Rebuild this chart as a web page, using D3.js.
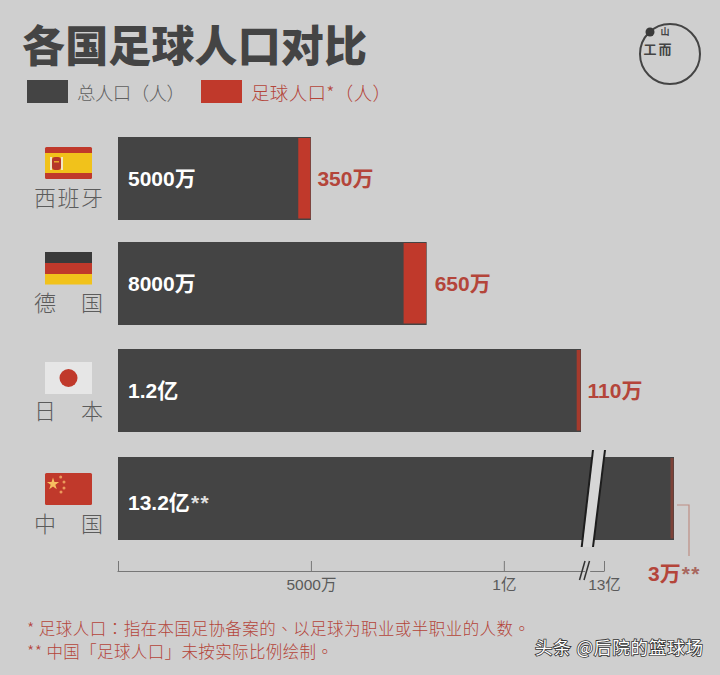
<!DOCTYPE html>
<html><head><meta charset="utf-8">
<script src="https://cdn.jsdelivr.net/npm/d3@7/dist/d3.min.js"></script>
<style>
html,body{margin:0;padding:0;background:#cfcfcf}
svg{display:block}
text{font-family:"Noto Sans CJK SC","Noto Sans",sans-serif}
.num{font-family:"Liberation Sans","Noto Sans CJK SC",sans-serif;font-weight:700}
.tc{font-family:"Noto Sans CJK TC",sans-serif}
</style></head><body>
<svg id="c" width="720" height="675"></svg>
<script>
const countries = ["西班牙","德国","日本","中国"];
const totalPopulation = [50000000,80000000,120000000,1320000000];
const footballPopulation = [3500000,6500000,1100000,30000];
const totalLabels = ["5000万","8000万","1.2亿","13.2亿"];
const footballLabels = ["350万","650万","110万","3万"];
const axisTicks = [0,50000000,100000000,1300000000];
const axisLabels = ["","5000万","1亿","13亿"];
const legendLabels = ["总人口（人）","足球人口*（人）"];
const notes = ["* 足球人口：指在本国足协备案的、以足球为职业或半职业的人数。","** 中国「足球人口」未按实际比例绘制。"];

const DARK="#444444", RED="#c0392b", BG="#cfcfcf", TXT="#5f5f5f", REDTXT="#b4453a";
const svg=d3.select("#c");
svg.append("rect").attr("width",720).attr("height",675).attr("fill",BG);

// broken scale: linear up to 1.2亿, compressed after the break
const x=d3.scaleLinear().domain([0,120000000,1300000000,1320000000]).range([118,581,604,674]);
const y=d3.scaleOrdinal().domain(countries).range([137,242,349,457]);
const barH=83;
const rows=countries.map((c,i)=>({c,total:totalPopulation[i],foot:footballPopulation[i],tl:totalLabels[i],fl:footballLabels[i]}));

// title & legend
svg.append("text").text("各国足球人口对比").attr("x",22).attr("y",62)
  .attr("font-size",43).attr("font-weight",900).attr("fill","#444").attr("textLength",345);
const legend=[[27,DARK,77,TXT,108],[201,RED,251,REDTXT,140]];
legend.forEach((l,i)=>{
  svg.append("rect").attr("x",l[0]).attr("y",80).attr("width",41).attr("height",23).attr("fill",l[1]);
  svg.append("text").text(legendLabels[i]).attr("x",l[2]).attr("y",99.5).attr("font-size",18.5).attr("font-weight",300)
    .attr("fill",l[3]).attr("textLength",l[4]);
});

// logo
svg.append("circle").attr("cx",670).attr("cy",54).attr("r",30).attr("stroke-width",2).attr("fill","none").attr("stroke","#444");
svg.append("circle").attr("cx",650).attr("cy",32).attr("r",4.5).attr("fill","#3a3a3a");
[["山",665,35,9],["工",650,53.5,13],["而",665,53.5,13]].forEach(g=>{
  svg.append("text").text(g[0]).attr("x",g[1]).attr("y",g[2]).attr("font-size",g[3]).attr("text-anchor","middle").attr("fill","#444").attr("font-weight",700);
});

// bars
const g=svg.append("g");
g.selectAll("rect.total").data(rows).join("rect").attr("class","total")
  .attr("x",x(0)).attr("y",d=>y(d.c)).attr("width",d=>x(d.total)-x(0)).attr("height",barH).attr("fill",DARK);
const w=d=>Math.max(3,0.9*(d.foot/50000000)*(x(50000000)-x(0)));
g.selectAll("rect.foot").data(rows).join("rect").attr("class","foot")
  .attr("x",d=>x(d.total)-0.5-w(d)).attr("y",d=>y(d.c)+1).attr("width",d=>w(d)).attr("height",barH-2.5)
  .attr("fill",d=>d.foot<1e6?"#7d4238":(d.foot<2e6?"#a63a2c":RED));
const labelDy={"中国":3.5};
const tl=g.selectAll("text.tl").data(rows).join("text").attr("class","tl num")
  .attr("x",128).attr("y",d=>y(d.c)+barH/2+7.5+(labelDy[d.c]||0)).attr("font-size",21).attr("fill","#fff").text(d=>d.tl);
tl.filter(d=>d.c==="中国").append("tspan").text("**").attr("dx",1).attr("fill","#e0e0e0").attr("letter-spacing",1.5);
g.selectAll("text.fl").data(rows.slice(0,3)).join("text").attr("class","fl num")
  .attr("x",d=>x(d.total)+(d.total===80000000?8:6.5)).attr("y",d=>y(d.c)+barH/2+7.5).attr("font-size",21).attr("fill",REDTXT).text(d=>d.fl);

// leader + China label
svg.append("path").attr("d","M677,505H689V556").attr("fill","none").attr("stroke","#bd8e84").attr("stroke-width",1.2);
const cl=svg.append("text").attr("class","num").attr("x",648).attr("y",581).attr("font-size",21).attr("fill",REDTXT).text(footballLabels[3]);
cl.append("tspan").text("**").attr("dx",1).attr("letter-spacing",1.5).attr("fill","#a8675e");

// country names + flags
const names=svg.append("g");
const nameDy={"西班牙":-1,"德国":-1,"日本":0,"中国":5};
rows.forEach(d=>{
  names.append("text").text(d.c).attr("x",34).attr("y",y(d.c)+barH-13+nameDy[d.c])
    .attr("font-size",22).attr("font-weight",300).attr("fill","#5c5c5c").attr("textLength",69)
    .attr("lengthAdjust","spacing");
});
const fx=45,fw=47,fh=32;
const flag={};
countries.forEach((c,i)=>flag[c]=svg.append("g").attr("transform",`translate(${fx},${y(c)+[10,10,13,16][i]})`));
// Spain
let f=flag["西班牙"];
f.append("rect").attr("width",fw).attr("height",fh).attr("rx",1.5).attr("fill","#c0392b");
f.append("rect").attr("y",6).attr("width",fw).attr("height",20).attr("fill","#f1c21b");
f.append("rect").attr("x",5).attr("y",10).attr("width",2).attr("height",13).attr("fill","#f2e6c4");
f.append("rect").attr("x",16).attr("y",10).attr("width",2).attr("height",13).attr("fill","#f2e6c4");
f.append("rect").attr("x",7).attr("y",10).attr("width",9).attr("height",13).attr("rx",3).attr("fill","#b5372a");
f.append("rect").attr("x",9).attr("y",14).attr("width",5).attr("height",1.5).attr("fill","#e8a52a");
// Germany
f=flag["德国"];
f.append("rect").attr("width",fw).attr("height",11).attr("fill","#3a3a3a");
f.append("rect").attr("y",11).attr("width",fw).attr("height",11).attr("fill","#c0392b");
f.append("rect").attr("y",22).attr("width",fw).attr("height",10.5).attr("fill","#f1c21b");
// Japan
f=flag["日本"];
f.append("rect").attr("width",fw).attr("height",fh).attr("fill","#e6e6e6");
f.append("circle").attr("cx",fw/2).attr("cy",fh/2).attr("r",9).attr("fill","#c0392b");
// China
f=flag["中国"];
f.append("rect").attr("width",fw).attr("height",fh).attr("rx",1.5).attr("fill","#c0392b");
const star=d3.symbol().type(d3.symbolStar);
f.append("path").attr("d",star.size(46)()).attr("transform","translate(8,11)").attr("fill","#f7c060");
[[15.7,4],[19,9],[19,15],[16,19]].forEach(p=>f.append("circle").attr("r",1.5).attr("cx",p[0]).attr("cy",p[1]).attr("fill","#eb9a5c"));

// break on China bar
svg.append("path").attr("d",`M593,450L605,450L593,547L581.7,547Z`).attr("fill","#d6d6d6");
[[593,450,581.7,547],[605,450,593,547]].forEach(l=>svg.append("line").attr("x1",l[0]).attr("y1",l[1]).attr("x2",l[2]).attr("y2",l[3]).attr("stroke","#1d1d1d").attr("stroke-width",2));

// axis
const axis=d3.axisBottom(x).tickValues(axisTicks).tickSize(-10).tickSizeOuter(0).tickPadding(8)
  .tickFormat(v=>axisLabels[axisTicks.indexOf(v)]);
const ax=svg.append("g").attr("transform","translate(0,571)").call(axis);
ax.select(".domain").remove();
ax.selectAll(".tick line").attr("stroke","#777");
ax.selectAll(".tick text").attr("font-size",15.5).attr("fill","#5a5a5a").style("font-family",'"Liberation Sans","Noto Sans CJK SC",sans-serif');
ax.append("line").attr("x1",x(0)-0.5).attr("x2",x(1300000000)+0.5).attr("y1",0.5).attr("y2",0.5).attr("stroke","#777").attr("stroke-width",1.2);
ax.append("path").attr("d","M586,-2L591,-2L587,10L582,10Z").attr("fill",BG);
[[585,-10,579.5,9],[589.5,-10,584,9]].forEach(l=>ax.append("line").attr("x1",l[0]).attr("y1",l[1]).attr("x2",l[2]).attr("y2",l[3]).attr("stroke","#333").attr("stroke-width",1.5));

// notes (centred punctuation comes from the TC face)
function note(str,yy,len){
  const t=svg.append("text").attr("x",27).attr("y",yy).attr("font-size",16.5).attr("font-weight",300).attr("fill",REDTXT).attr("textLength",len);
  str.split(/([：、。])/).forEach(s=>{
    if(!s) return;
    t.append("tspan").text(s).classed("tc",/[：、。]/.test(s));
  });
}
note(notes[0],635,503);
note(notes[1],658,306);

// watermark
svg.append("text").text("头条 @后院的篮球场").attr("x",535).attr("y",654).attr("font-size",17.5).attr("fill","#fff")
  .attr("textLength",168).style("paint-order","stroke").attr("stroke","#333").attr("stroke-width",1.6);
</script>
</body></html>
